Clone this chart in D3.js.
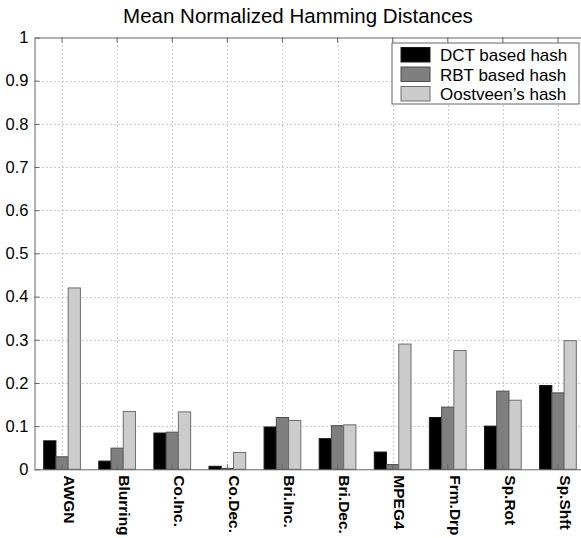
<!DOCTYPE html>
<html>
<head>
<meta charset="utf-8">
<script src="https://cdn.jsdelivr.net/npm/d3@7"></script>
<style>
  html, body { margin: 0; padding: 0; background: #fff; }
  svg { display: block; }
  text { font-family: "Liberation Sans", Arial, Helvetica, sans-serif; fill: #000; }
</style>
</head>
<body>
<svg id="chart" width="581" height="538"></svg>
<script>
// Attack types along the x axis
const categories = ["AWGN", "Blurring", "Co.Inc.", "Co.Dec.", "Bri.Inc.", "Bri.Dec.", "MPEG4", "Frm.Drp", "Sp.Rot", "Sp.Shft"];

// Mean normalized Hamming distance per hashing scheme
const seriesNames = ["DCT based hash", "RBT based hash", "Oostveen\u2019s hash"];
const dctValues      = [0.066, 0.019, 0.084, 0.007, 0.098, 0.071, 0.040, 0.120, 0.100, 0.194];
const rbtValues      = [0.029, 0.049, 0.086, 0.002, 0.120, 0.101, 0.011, 0.144, 0.181, 0.177];
const oostveenValues = [0.420, 0.134, 0.133, 0.039, 0.113, 0.103, 0.290, 0.275, 0.160, 0.298];

const yTicks = [0, 0.1, 0.2, 0.3, 0.4, 0.5, 0.6, 0.7, 0.8, 0.9, 1];
const yTickLabels = ["0", "0.1", "0.2", "0.3", "0.4", "0.5", "0.6", "0.7", "0.8", "0.9", "1"];

const seriesValues = [dctValues, rbtValues, oostveenValues];
const fills = ["#000000", "#7f7f7f", "#cccccc"];
const strokes = ["#1a1a1a", "#4d4d4d", "#6e6e6e"];

const svg = d3.select("#chart");
const plot = { left: 34.5, top: 37.5, right: 585.5, bottom: 469.3 };

const x = d3.scaleBand().domain(categories).range([plot.left, plot.right]).paddingInner(0).paddingOuter(0);
const groupW = x.bandwidth() * 2 / 3;
const xs = d3.scaleBand().domain(d3.range(seriesNames.length)).range([-groupW / 2, groupW / 2]);
const y = d3.scaleLinear().domain([0, 1]).range([plot.bottom, plot.top]);

// Title
svg.append("text")
  .attr("x", 298).attr("y", 23)
  .attr("text-anchor", "middle")
  .style("font-size", "20.5px")
  .text("Mean Normalized Hamming Distances");

// Dotted grid
const grid = svg.append("g").attr("stroke", "#9a9a9a").attr("stroke-width", 1).attr("stroke-dasharray", "1,3");
grid.selectAll("line.h").data(yTicks.slice(1, -1)).join("line")
  .attr("x1", plot.left).attr("x2", plot.right)
  .attr("y1", d => Math.round(y(d)) + 0.5).attr("y2", d => Math.round(y(d)) + 0.5);
grid.selectAll("line.v").data(categories).join("line")
  .attr("x1", d => Math.round(x(d) + x.bandwidth() / 2) + 0.5)
  .attr("x2", d => Math.round(x(d) + x.bandwidth() / 2) + 0.5)
  .attr("y1", plot.top).attr("y2", plot.bottom);

// Bars
const groups = svg.append("g").selectAll("g").data(categories).join("g")
  .attr("transform", d => `translate(${x(d) + x.bandwidth() / 2},0)`);
groups.selectAll("rect").data((d, i) => seriesValues.map((vals, s) => ({ s, v: vals[i] }))).join("rect")
  .attr("x", d => xs(d.s))
  .attr("width", xs.bandwidth())
  .attr("y", d => y(d.v))
  .attr("height", d => y(0) - y(d.v))
  .attr("fill", d => fills[d.s])
  .attr("stroke", d => strokes[d.s])
  .attr("stroke-width", 1);

// Axes box (left, top, bottom) with inward ticks
const axisColor = "#666";
const yAxis = d3.axisLeft(y).tickValues(yTicks).tickFormat((d, i) => yTickLabels[i]).tickSizeInner(-5).tickSizeOuter(0).tickPadding(6);
const gy = svg.append("g").attr("transform", `translate(${plot.left},0)`).call(yAxis);
gy.select(".domain").attr("stroke", axisColor);
gy.selectAll(".tick line").attr("stroke", axisColor);
gy.selectAll(".tick text").style("font-size", "16.5px").attr("font-family", null);

const xAxisBottom = d3.axisBottom(x).tickSizeInner(-5).tickSizeOuter(0).tickFormat("");
const gxb = svg.append("g").attr("transform", `translate(0,${plot.bottom})`).call(xAxisBottom);
gxb.select(".domain").attr("stroke", axisColor);
gxb.selectAll(".tick line").attr("stroke", axisColor);

const xAxisTop = d3.axisTop(x).tickSizeInner(-5).tickSizeOuter(0).tickFormat("");
const gxt = svg.append("g").attr("transform", `translate(0,${plot.top})`).call(xAxisTop);
gxt.select(".domain").attr("stroke", axisColor);
gxt.selectAll(".tick line").attr("stroke", axisColor);

// Rotated bold category labels
svg.append("g").selectAll("text").data(categories).join("text")
  .attr("transform", d => `translate(${x(d) + x.bandwidth() / 2 + 1.8},${plot.bottom + 6}) rotate(90)`)
  .attr("text-anchor", "start")
  .style("font-size", "15.5px")
  .style("font-weight", "bold")
  .text(d => d);

// Legend
const legend = svg.append("g").attr("transform", "translate(392,43)");
legend.append("rect").attr("x", 0).attr("y", 0).attr("width", 187).attr("height", 61)
  .attr("fill", "#fff").attr("stroke", "#666").attr("stroke-width", 1);
const rows = legend.selectAll("g").data(seriesNames).join("g")
  .attr("transform", (d, i) => `translate(9,${4.5 + i * 19.5})`);
rows.append("rect").attr("width", 29).attr("height", 14.5)
  .attr("fill", (d, i) => fills[i]).attr("stroke", (d, i) => strokes[i]);
rows.append("text").attr("x", 39).attr("y", 13.5)
  .style("font-size", "17px")
  .text(d => d);
</script>
</body>
</html>
